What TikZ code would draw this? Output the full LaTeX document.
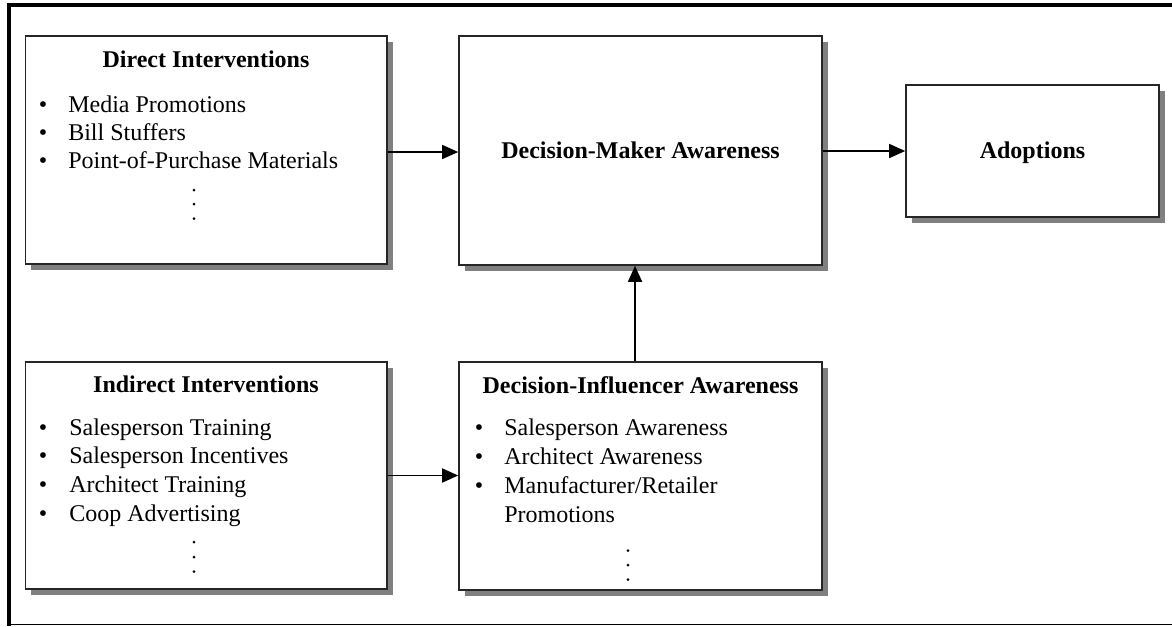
\documentclass[tikz,border=0pt]{standalone}
\usepackage{fontspec}
\setmainfont{Liberation Serif}
\usetikzlibrary{shadows,arrows.meta}
\begin{document}
\begin{tikzpicture}[x=0.75pt,y=-0.75pt,
  box/.style={draw=black!85,line width=1.2pt,fill=white,rectangle,inner sep=0pt,
    drop shadow={shadow xshift=4.2pt,shadow yshift=-4.2pt,fill=black!50,opacity=1}},
  ttl/.style={font=\fontsize{18}{21}\selectfont\bfseries,anchor=base,inner sep=0pt},
  itm/.style={font=\fontsize{18}{21}\selectfont,anchor=base west,inner sep=0pt},
  bul/.style={font=\fontsize{18}{21}\selectfont,anchor=base,inner sep=0pt},
  arr/.style={line width=1.1pt,-{Triangle[length=12pt,width=10.5pt]}},
  dotc/.style={fill=black}]
\useasboundingbox (0,0) rectangle (1172,626);
% frame
\draw[line width=3pt] (8.7,626) -- (8.7,5.3) -- (1172,5.3);
\draw[line width=1pt] (8.7,624.7) -- (1172,624.7);

% boxes
\node[box,minimum width=271.1pt,minimum height=171pt] (direct) at (206.25,150) {};
\node[box,minimum width=272.25pt,minimum height=171.75pt] (dm) at (640.5,150.5) {};
\node[box,minimum width=189.75pt,minimum height=99pt] (adopt) at (1032.5,151) {};
\node[box,minimum width=271.1pt,minimum height=170.25pt] (indirect) at (206.25,475.5) {};
\node[box,minimum width=272.25pt,minimum height=171pt] (infl) at (640.5,476) {};

% Direct Interventions
\node[ttl] (t1) at (206,67) {Direct Interventions};
\node[bul] (b11) at (43,112) {•};
\node[itm] (i11) at (68,112) {Media Promotions};
\node[bul] (b12) at (43,140) {•};
\node[itm] (i12) at (68,140) {Bill Stuffers};
\node[bul] (b13) at (43,168) {•};
\node[itm] (i13) at (68,168) {Point-of-Purchase Materials};
\fill[dotc] (194,190) circle (1.5);
\fill[dotc] (194,204) circle (1.5);
\fill[dotc] (194,218.5) circle (1.5);

% Decision-Maker Awareness
\node[ttl] (t2) at (640.5,158) {Decision-Maker Awareness};

% Adoptions
\node[ttl] (t3) at (1032.5,158) {Adoptions};

% Indirect Interventions
\node[ttl] (t4) at (206,392) {Indirect Interventions};
\node[bul] (b41) at (43,435) {•};
\node[itm] (i41) at (69,435) {Salesperson Training};
\node[bul] (b42) at (43,463.5) {•};
\node[itm] (i42) at (69,463.5) {Salesperson Incentives};
\node[bul] (b43) at (43,492.5) {•};
\node[itm] (i43) at (69,492.5) {Architect Training};
\node[bul] (b44) at (43,521.5) {•};
\node[itm] (i44) at (69,521.5) {Coop Advertising};
\fill[dotc] (194,542) circle (1.5);
\fill[dotc] (194,557) circle (1.5);
\fill[dotc] (194,571.5) circle (1.5);

% Decision-Influencer Awareness
\node[ttl] (t5) at (640.5,393) {Decision-Influencer Awareness};
\node[bul] (b51) at (479,435) {•};
\node[itm] (i51) at (504,435) {Salesperson Awareness};
\node[bul] (b52) at (479,464) {•};
\node[itm] (i52) at (504,464) {Architect Awareness};
\node[bul] (b53) at (479,493) {•};
\node[itm] (i53) at (504,493) {Manufacturer/Retailer};
\node[itm] (i54) at (504,522) {Promotions};
\fill[dotc] (628,550.5) circle (1.5);
\fill[dotc] (628,565) circle (1.5);
\fill[dotc] (628,579.5) circle (1.5);

% connectors
\draw[arr] ([yshift=-1.5pt]direct.east) -- ([yshift=-1.5pt]direct.east -| dm.west);
\draw[arr] (dm.east |- adopt.west) -- (adopt.west);
\draw[arr] (indirect.east) -- (indirect.east -| infl.west);
\draw[arr] ([xshift=-4.1pt]infl.north) -- ([xshift=-4.1pt]dm.south);
\end{tikzpicture}
\end{document}
